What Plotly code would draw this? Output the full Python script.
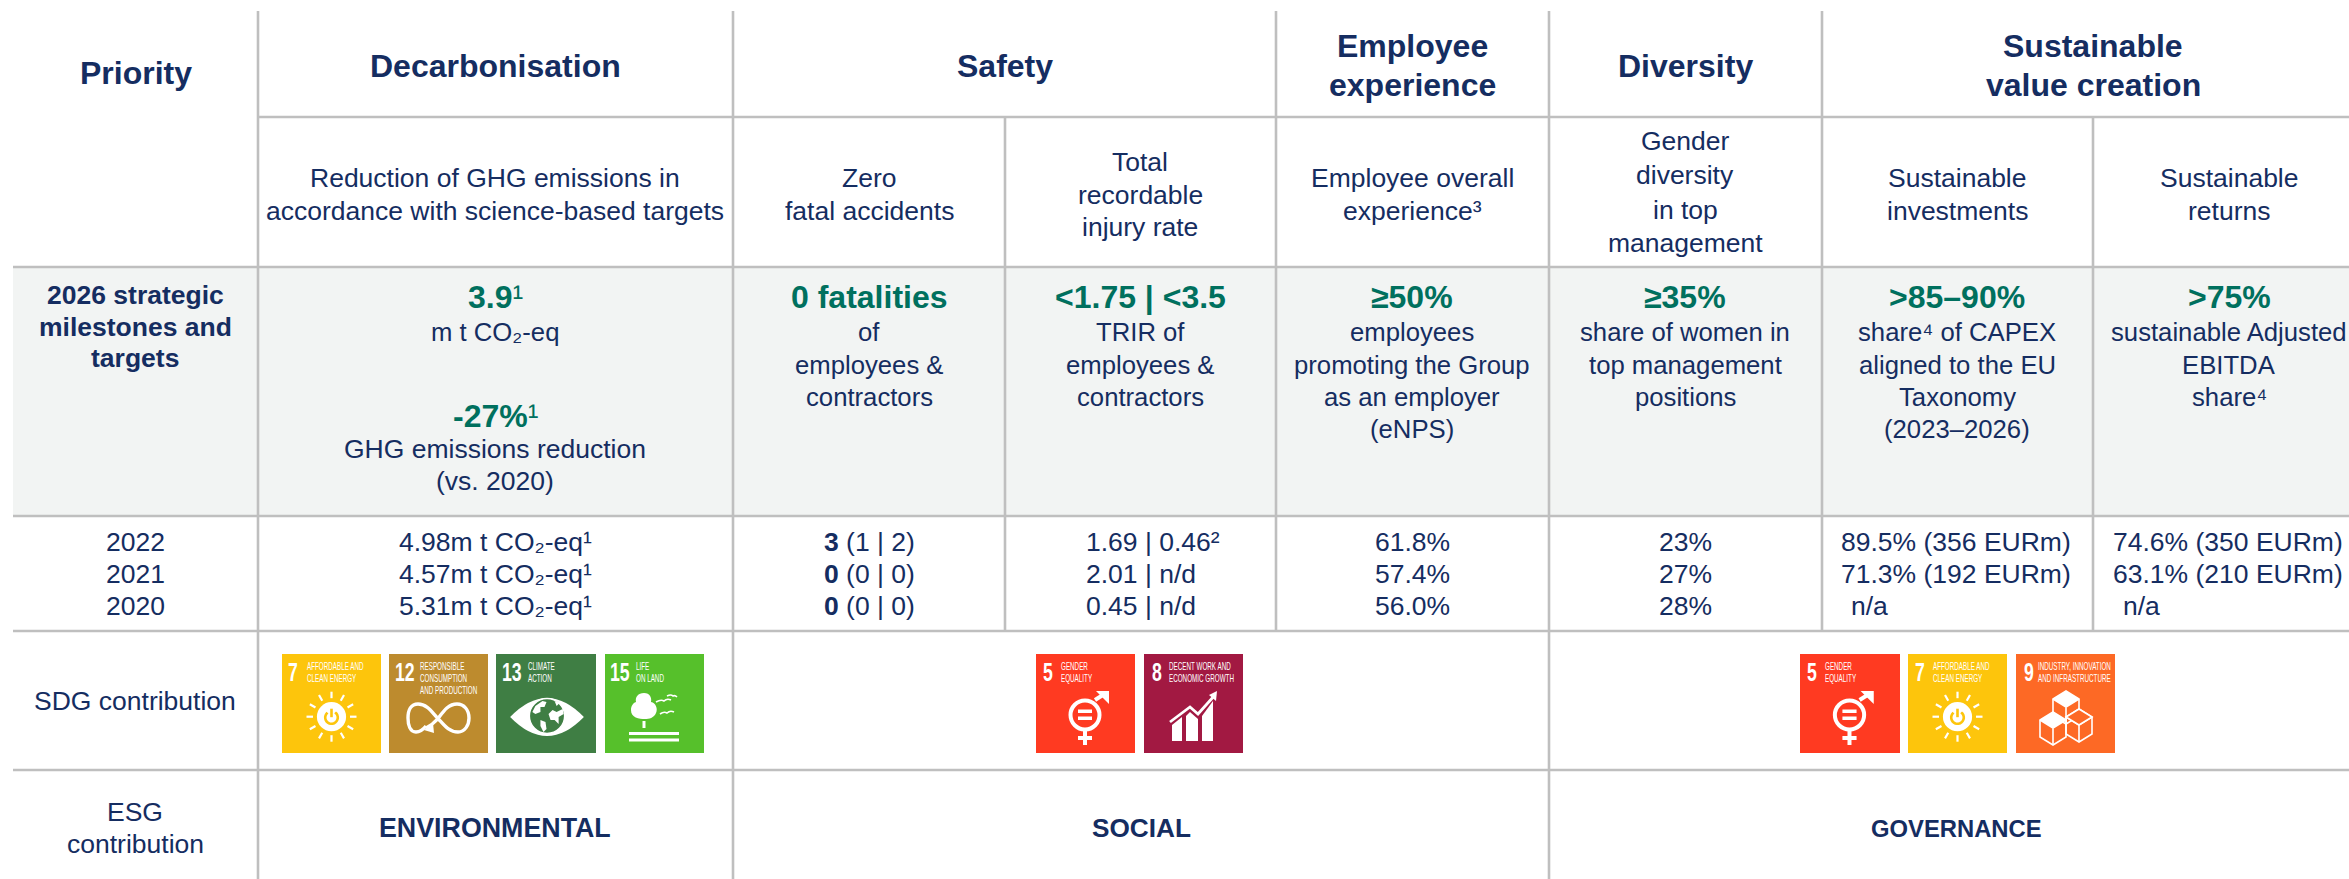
import math
import re
import plotly.graph_objects as go

# ---------- content ----------
priority_label = "Priority"
header_titles = [["Decarbonisation"], ["Safety"], ["Employee", "experience"], ["Diversity"], ["Sustainable", "value creation"]]
kpi_titles = [
    ["Reduction of GHG emissions in", "accordance with science-based targets"],
    ["Zero", "fatal accidents"],
    ["Total", "recordable", "injury rate"],
    ["Employee overall", "experience³"],
    ["Gender", "diversity", "in top", "management"],
    ["Sustainable", "investments"],
    ["Sustainable", "returns"],
]
target_label = ["2026 strategic", "milestones and", "targets"]
target_heads = ["3.9<span style='font-weight:normal'>¹</span>", "0 fatalities", "&lt;1.75 | &lt;3.5", "≥50%", "≥35%", "&gt;85–90%", "&gt;75%"]
target_lines = [
    ["m t CO₂-eq"],
    ["of", "employees &amp;", "contractors"],
    ["TRIR of", "employees &amp;", "contractors"],
    ["employees", "promoting the Group", "as an employer", "(eNPS)"],
    ["share of women in", "top management", "positions"],
    ["share⁴ of CAPEX", "aligned to the EU", "Taxonomy", "(2023–2026)"],
    ["sustainable Adjusted", "EBITDA", "share⁴"],
]
second_head = "-27%<span style='font-weight:normal'>¹</span>"
second_lines = ["GHG emissions reduction", "(vs. 2020)"]

years = ["2022", "2021", "2020"]
ghg_actuals = ["4.98m t CO₂-eq¹", "4.57m t CO₂-eq¹", "5.31m t CO₂-eq¹"]
fatal_actuals = ["<b>3</b> (1 | 2)", "<b>0</b> (0 | 0)", "<b>0</b> (0 | 0)"]
trir_actuals = ["1.69 | 0.46²", "2.01 | n/d", "0.45 | n/d"]
enps_actuals = ["61.8%", "57.4%", "56.0%"]
women_actuals = ["23%", "27%", "28%"]
capex_actuals = ["89.5% (356 EURm)", "71.3% (192 EURm)", "n/a"]
ebitda_actuals = ["74.6% (350 EURm)", "63.1% (210 EURm)", "n/a"]

sdg_label = "SDG contribution"
esg_label = ["ESG", "contribution"]
esg_pillars = ["ENVIRONMENTAL", "SOCIAL", "GOVERNANCE"]

sdg_numbers = ["7", "12", "13", "15", "5", "8", "5", "7", "9"]
sdg_titles = [
    ["AFFORDABLE AND", "CLEAN ENERGY"],
    ["RESPONSIBLE", "CONSUMPTION", "AND PRODUCTION"],
    ["CLIMATE", "ACTION"],
    ["LIFE", "ON LAND"],
    ["GENDER", "EQUALITY"],
    ["DECENT WORK AND", "ECONOMIC GROWTH"],
    ["GENDER", "EQUALITY"],
    ["AFFORDABLE AND", "CLEAN ENERGY"],
    ["INDUSTRY, INNOVATION", "AND INFRASTRUCTURE"],
]

# ---------- layout ----------
W, H = 2349, 879
NAVY = "#152D61"
GREEN = "#00705E"
LINE = "#BFBFBF"
BAND = "#F2F4F3"
FONT = "Liberation Sans"
NARROW = "Liberation Sans Narrow, Liberation Sans"
BODY = 26.5
TARGET_BODY = 25.7
HEAD = 32
TARGET = 32
PILLAR_SIZES = [26.8, 26.2, 23.8]

sdg_colors = {"7": "#FDC50C", "12": "#BD8B2E", "13": "#3F7E44", "15": "#56C02B", "5": "#FF3A21", "8": "#A21942", "9": "#FD6925"}
icon_left = [282, 389, 496, 605, 1036, 1144, 1800, 1908, 2016]
icon_width = [99, 99, 100, 99, 99, 99, 100, 99, 99]
icon_top, icon_h = 654, 99
num_x = [6, 6, 6, 5, 6.5, 8, 7, 7, 8]
title_x = [25, 31, 32, 31, 25, 24.5, 25, 24.5, 22]

annotations = []
shapes = []


def text(x, y, s, size=BODY, color=NAVY, bold=False, anchor="center", font=FONT):
    annotations.append(dict(
        x=x, y=y, xref="x", yref="y", text=f"<b>{s}</b>" if bold else s, showarrow=False,
        xanchor=anchor, yanchor="middle", align=anchor,
        font=dict(family=font, size=size, color=color), borderpad=0, borderwidth=0,
    ))


def hline(y, x0, x1=W + 5):
    shapes.append(dict(type="line", x0=x0, x1=x1, y0=y, y1=y, xref="x", yref="y", line=dict(color=LINE, width=2.6), layer="below"))


def vline(x, y0, y1):
    shapes.append(dict(type="line", x0=x, x1=x, y0=y0, y1=y1, xref="x", yref="y", line=dict(color=LINE, width=2.6), layer="below"))


# background band and rules
shapes.append(dict(type="rect", x0=13, x1=W + 5, y0=267, y1=516, xref="x", yref="y", fillcolor=BAND, line=dict(width=0), layer="below"))
hline(117, 258)
for yy in [267, 516, 631, 770]:
    hline(yy, 13)
for xx in [258, 733, 1549]:
    vline(xx, 11, H + 5)
for xx in [1276, 1822]:
    vline(xx, 11, 631)
for xx in [1005, 2093]:
    vline(xx, 117, 631)

# header rows
text(136, 73, priority_label, size=HEAD, bold=True)
header_x = [495, 1005, 1412, 1685, 2093]
header_y = {1: [66], 2: [46, 85]}
for xx, lines in zip(header_x, header_titles):
    for yy, s in zip(header_y[len(lines)], lines):
        text(xx, yy, s, size=HEAD, bold=True)

kpi_x = [495, 869, 1140, 1412, 1685, 1957, 2229]
kpi_y = {2: [178, 211], 3: [162, 195, 227], 4: [141, 175, 210, 243]}
for xx, lines in zip(kpi_x, kpi_titles):
    for yy, s in zip(kpi_y[len(lines)], lines):
        text(xx, yy, s)

# targets row
for yy, s in zip([295, 327, 358], target_label):
    text(135, yy, s, size=26.5, bold=True)
target_y = [332, 365, 397, 429]
for xx, head, lines in zip(kpi_x, target_heads, target_lines):
    text(xx, 297, head, size=TARGET, color=GREEN, bold=True)
    for yy, s in zip(target_y, lines):
        text(xx, yy, s, size=TARGET_BODY)
text(495, 416, second_head, size=TARGET, color=GREEN, bold=True)
text(495, 449, second_lines[0])
text(495, 481, second_lines[1])

# actuals row
row_y = [542, 574, 606]
for yy, yr, a, b, c, d, e, f, g in zip(row_y, years, ghg_actuals, fatal_actuals, trir_actuals, enps_actuals, women_actuals, capex_actuals, ebitda_actuals):
    text(135, yy, yr)
    text(495, yy, a)
    text(869, yy, b)
    text(1086, yy, c, anchor="left")
    text(1412, yy, d)
    text(1685, yy, e)
    text(1851 if f == "n/a" else 1841, yy, f, anchor="left")
    text(2123 if g == "n/a" else 2113, yy, g, anchor="left")

# bottom rows
text(135, 701, sdg_label)
text(135, 812, esg_label[0])
text(135, 844, esg_label[1])
for xx, s, sz in zip([495, 1141, 1956], esg_pillars, PILLAR_SIZES):
    text(xx, 828, s, size=sz, bold=True)


# ---------- SDG pictograms (drawn in a 99x99 box) ----------
def P(ox, sx, path):
    out = []
    is_x = True
    for tok in re.findall(r"[A-Za-z]|-?\d+\.?\d*", path):
        if tok.isalpha():
            out.append(tok)
            is_x = True
        else:
            v = float(tok)
            if is_x:
                out.append(f"{ox + v * sx:.2f}")
            else:
                out.append(f"{icon_top + v:.2f}")
            is_x = not is_x
    return " ".join(out)


def fill(ox, sx, path, color="white"):
    shapes.append(dict(type="path", path=P(ox, sx, path), xref="x", yref="y", fillcolor=color, line=dict(width=0)))


def stroke(ox, sx, path, w=2.5, color="white"):
    shapes.append(dict(type="path", path=P(ox, sx, path), xref="x", yref="y", line=dict(color=color, width=w)))


def circle(ox, sx, cx, cy, r, fc=None, lc=None, w=0):
    shapes.append(dict(type="circle", x0=ox + (cx - r) * sx, x1=ox + (cx + r) * sx, y0=icon_top + cy - r, y1=icon_top + cy + r,
                       xref="x", yref="y", fillcolor=fc or "rgba(0,0,0,0)", line=dict(color=lc or "rgba(0,0,0,0)", width=w)))


def sun(ox, sx, bg):
    cx, cy = 49.5, 62.7
    for k in range(12):
        a = k * math.pi / 6
        stroke(ox, sx, f"M {cx + 18.5 * math.cos(a):.2f} {cy + 18.5 * math.sin(a):.2f} L {cx + 25 * math.cos(a):.2f} {cy + 25 * math.sin(a):.2f}", 2.2)
    circle(ox, sx, cx, cy, 14.6, fc="white")
    pts = [(cx + 6.3 * math.sin(math.radians(t)), cy + 0.8 - 6.3 * math.cos(math.radians(t))) for t in range(35, 330, 15)]
    stroke(ox, sx, "M " + " L ".join(f"{x:.2f} {y:.2f}" for x, y in pts), 2.6, bg)
    stroke(ox, sx, f"M {cx} {cy - 8} L {cx} {cy + 0.5}", 2.6, bg)


def infinity(ox, sx, bg):
    stroke(ox, sx, "M 37 72 C 33 77 29 78 27 78 C 21 78 19 71 19 64 C 19 56 22 50 29 50 C 39 50 44 60 49.5 65 "
                   "C 55 71 60 78 69 78 C 76 78 80 71 80 64 C 80 56 75 50 68 50 C 59 50 54 58 49.5 64 C 46 68 43 71 37 74", 3.4)
    fill(ox, sx, "M 35 76 L 45 79 L 44 69 Z")


def eye(ox, sx, bg):
    fill(ox, sx, "M 14 63 Q 50.5 25 87 63 Q 50.5 101 14 63 Z")
    circle(ox, sx, 50.5, 62, 17.5, fc=bg, lc="white", w=1.5)
    fill(ox, sx, "M 39 52 L 46 47 L 50 48 L 48 53 L 44 53 L 44 58 L 39 60 L 36 58 Z")
    fill(ox, sx, "M 52 60 L 56 56 L 60 58 L 66 55 L 67 60 L 62 63 L 62 70 L 58 66 L 54 66 Z")
    fill(ox, sx, "M 44 66 L 49 68 L 50 75 L 47 78 L 44 72 Z")
    fill(ox, sx, "M 58 47 L 63 49 L 60 52 Z")


def tree(ox, sx, bg):
    fill(ox, sx, "M 39 39 C 45 39 47 44 46 48 C 51 49 53 55 51 59 C 49 64 44 65 40 65 C 34 65 26 64 26 56 C 26 52 28 49 31 48 C 30 43 33 39 39 39 Z")
    stroke(ox, sx, "M 39 67 L 39 74", 3)
    stroke(ox, sx, "M 24 79.5 L 74 79.5", 3.2)
    stroke(ox, sx, "M 24 86 L 74 86", 3.2)
    stroke(ox, sx, "M 51 48 Q 56 45 59 47 Q 62 44 66 46", 1.6)
    stroke(ox, sx, "M 62 42 Q 66 40 68 42 Q 70 41 72 43", 1.6)
    stroke(ox, sx, "M 55 60 Q 59 57 62 59 Q 65 56 69 58", 1.6)


def gender(ox, sx, bg):
    cx, cy = 49, 61
    circle(ox, sx, cx, cy, 14.5, lc="white", w=4)
    fill(ox, sx, f"M {cx - 7} {cy - 5.5} L {cx + 7} {cy - 5.5} L {cx + 7} {cy - 2} L {cx - 7} {cy - 2} Z")
    fill(ox, sx, f"M {cx - 7} {cy + 1.5} L {cx + 7} {cy + 1.5} L {cx + 7} {cy + 5} L {cx - 7} {cy + 5} Z")
    stroke(ox, sx, f"M {cx} {cy + 16} L {cx} {cy + 30}", 4)
    stroke(ox, sx, f"M {cx - 7} {cy + 23} L {cx + 7} {cy + 23}", 4)
    stroke(ox, sx, f"M {cx + 10} {cy - 15} L {cx + 21} {cy - 22}", 4)
    fill(ox, sx, f"M {cx + 11} {cy - 24} L {cx + 24} {cy - 24} L {cx + 24} {cy - 11} Z")


def growth(ox, sx, bg):
    fill(ox, sx, "M 28 71 L 38 63 L 38 87 L 28 87 Z")
    fill(ox, sx, "M 42 62 L 46 58 L 54 65 L 54 87 L 42 87 Z")
    fill(ox, sx, "M 58 62 L 69 47 L 69 87 L 58 87 Z")
    stroke(ox, sx, "M 26 68 L 46 53 L 54 60 L 71 41", 2.8)
    fill(ox, sx, "M 65 41 L 73 37 L 72 47 Z")


def cubes(ox, sx, bg):
    c = [(50, 37), (37, 58), (63, 55)]
    for cx, top in c:
        stroke(ox, sx, f"M {cx} {top} L {cx + 13} {top + 8} L {cx + 13} {top + 25} L {cx} {top + 33} L {cx - 13} {top + 25} L {cx - 13} {top + 8} Z", 1.6)
        stroke(ox, sx, f"M {cx - 13} {top + 8} L {cx} {top + 16} L {cx + 13} {top + 8} M {cx} {top + 16} L {cx} {top + 33}", 1.6)
    fill(ox, sx, "M 50 37 L 63 45 L 50 53 L 37 45 Z")
    fill(ox, sx, "M 37 58 L 50 66 L 37 74 L 24 66 Z")
    fill(ox, sx, "M 63 55 L 76 63 L 63 71 L 50 63 Z", bg)
    stroke(ox, sx, "M 63 55 L 76 63 L 63 71 L 50 63 Z", 1.6)


pictos = {"7": sun, "12": infinity, "13": eye, "15": tree, "5": gender, "8": growth, "9": cubes}

for left, w, n, titles, nx, tx in zip(icon_left, icon_width, sdg_numbers, sdg_titles, num_x, title_x):
    col = sdg_colors[n]
    shapes.append(dict(type="rect", x0=left, x1=left + w, y0=icon_top, y1=icon_top + icon_h, xref="x", yref="y", fillcolor=col, line=dict(width=0)))
    pictos[n](left, w / 99, col)
    text(left + nx, icon_top + 18, n, size=26, color="white", bold=True, anchor="left", font=NARROW)
    for yy, s in zip([12, 24, 36], titles):
        text(left + tx, icon_top + yy, s, size=10.5, color="white", anchor="left", font=NARROW)

# The icon captions use a condensed face in the reference; squeeze them horizontally.
squeeze_js = """
document.body.style.margin='0';document.body.style.overflow='hidden';
document.querySelectorAll('.annotation-text').forEach(function(t){
  var fam = t.style.fontFamily || '';
  if (fam.indexOf('Narrow') < 0) return;
  var k = parseFloat(t.style.fontSize) > 20 ? 0.68 : 0.6;
  var b = t.getBBox();
  t.setAttribute('transform','translate('+b.x+' 0) scale('+k+' 1) translate('+(-b.x)+' 0)');
});
"""

fig = go.Figure()
fig.update_layout(
    width=W, height=H, margin=dict(l=0, r=0, t=0, b=0), autosize=False,
    paper_bgcolor="white", plot_bgcolor="white", showlegend=False,
    xaxis=dict(range=[0, W], visible=False, fixedrange=True),
    yaxis=dict(range=[H, 0], visible=False, fixedrange=True),
    shapes=shapes, annotations=annotations,
)
fig.write_html("out.html", post_script=squeeze_js, config=dict(displayModeBar=False))
